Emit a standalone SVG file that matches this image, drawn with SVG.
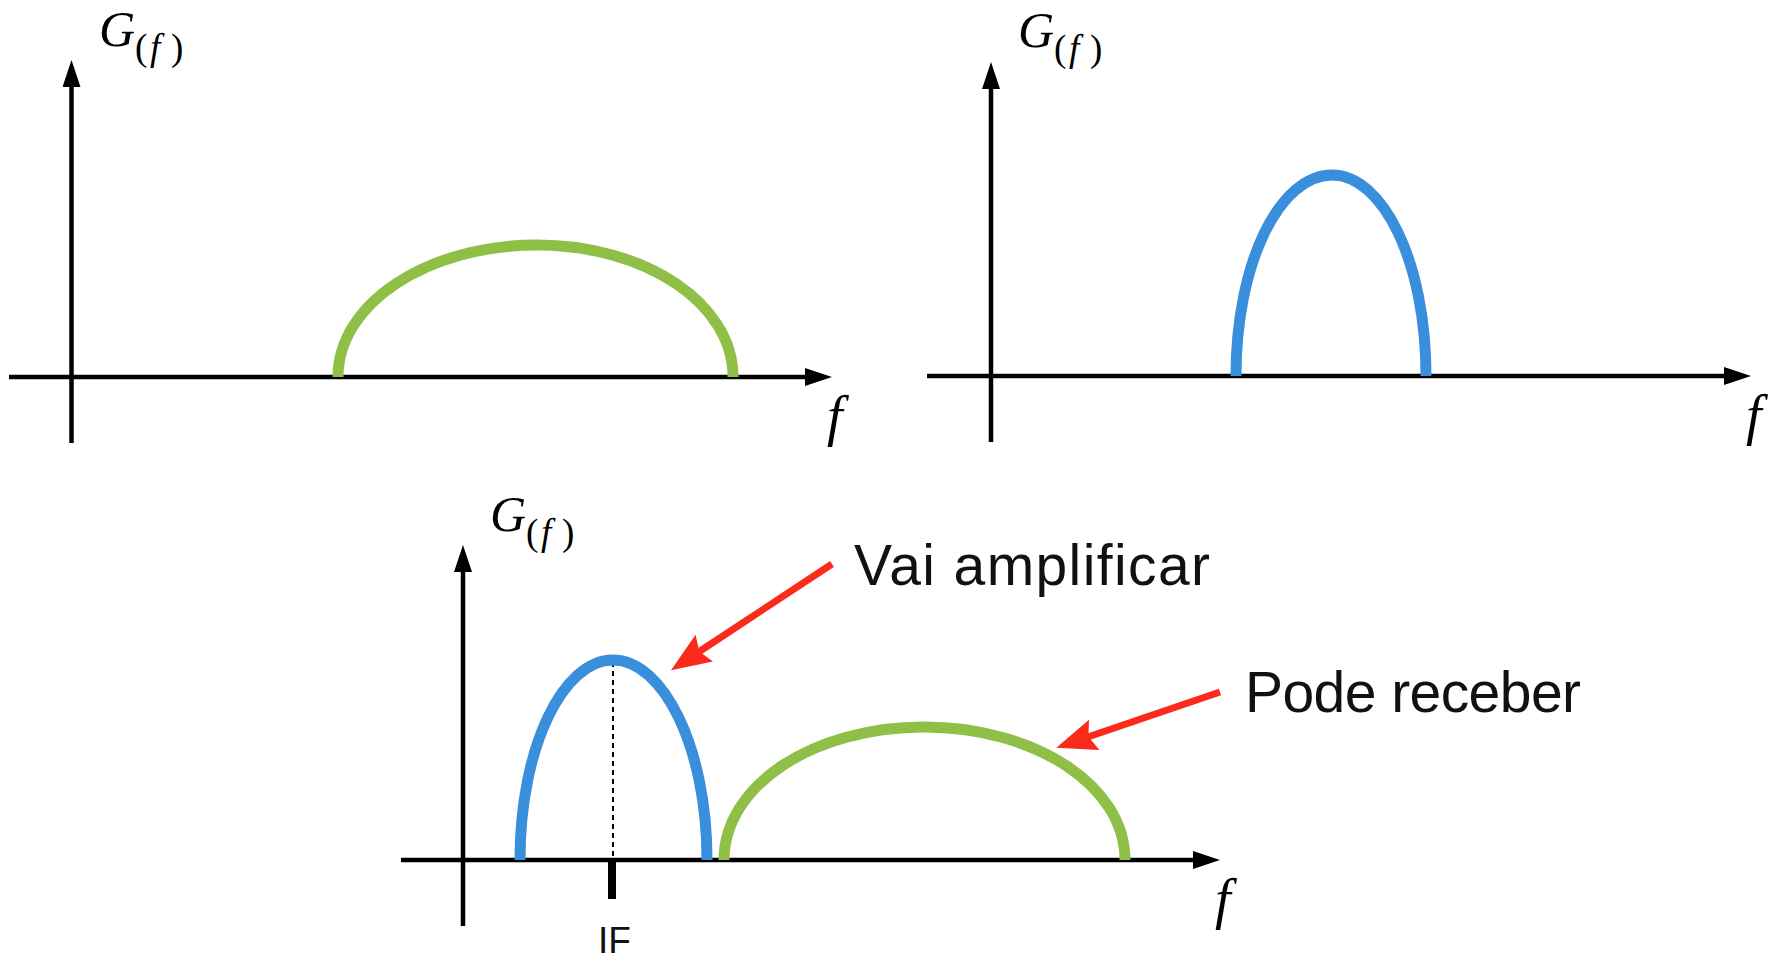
<svg xmlns="http://www.w3.org/2000/svg" width="1777" height="958" viewBox="0 0 1777 958">
  <style>
    .axis { stroke: #000; stroke-width: 4.5; fill: none; }
    .green { stroke: #8fbf47; stroke-width: 11; fill: none; }
    .blue { stroke: #3a8fdd; stroke-width: 11; fill: none; }
    .callout { stroke: #fa2b1b; stroke-width: 7; fill: none; }
    .math { font-family: "Liberation Serif", "Times New Roman", serif; fill: #000; }
    .it { font-style: italic; }
    .g { font-size: 50px; font-style: italic; }
    .sub { font-size: 37px; }
    .flab { font-family: "Liberation Serif", "Times New Roman", serif; font-style: italic; font-size: 56px; fill: #000; }
    .note { font-family: "Liberation Sans", Arial, sans-serif; font-size: 57px; fill: #111; }
    .tick { font-family: "Liberation Sans", Arial, sans-serif; font-size: 37px; fill: #111; }
  </style>
  <defs>
    <marker id="ah" markerUnits="userSpaceOnUse" markerWidth="28" markerHeight="18" refX="7" refY="9" orient="auto">
      <path d="M0,0 L27,9 L0,18 z" fill="#000"/>
    </marker>
    <marker id="rh" markerUnits="userSpaceOnUse" markerWidth="42" markerHeight="34" refX="16" refY="16" orient="auto">
      <path d="M0,0 L40,16 L0,32 L6,16 z" fill="#fa2b1b"/>
    </marker>
  </defs>
  <rect width="1777" height="958" fill="#fff"/>

  <g id="panel1">
    <line class="axis" x1="9" y1="377" x2="812" y2="377" marker-end="url(#ah)"/>
    <line class="axis" x1="71.5" y1="443" x2="71.5" y2="80" marker-end="url(#ah)"/>
    <path class="green" d="M338,377 C338,303 428,245 537,245 C645,245 733,303 733,377"/>
    <text class="math" x="99" y="46"><tspan class="g">G</tspan><tspan class="sub" x="135" y="60">(</tspan><tspan class="sub it" x="150" y="60">f</tspan><tspan class="sub" x="171" y="60">)</tspan></text>
    <text class="flab" x="827" y="435">f</text>
  </g>

  <g id="panel2">
    <line class="axis" x1="927" y1="376" x2="1731" y2="376" marker-end="url(#ah)"/>
    <line class="axis" x1="991" y1="442" x2="991" y2="82" marker-end="url(#ah)"/>
    <path class="blue" d="M1236,376 C1236,262 1280,175 1332,175 C1383,175 1426,262 1426,376"/>
    <text class="math" x="1018" y="47"><tspan class="g">G</tspan><tspan class="sub" x="1054" y="61">(</tspan><tspan class="sub it" x="1069" y="61">f</tspan><tspan class="sub" x="1090" y="61">)</tspan></text>
    <text class="flab" x="1746" y="434">f</text>
  </g>

  <g id="panel3">
    <line class="axis" x1="401" y1="860" x2="1200" y2="860" marker-end="url(#ah)"/>
    <line class="axis" x1="463" y1="926" x2="463" y2="565" marker-end="url(#ah)"/>
    <line x1="613" y1="662" x2="613" y2="858" stroke="#000" stroke-width="2" stroke-dasharray="5 4"/>
    <line x1="612" y1="858" x2="612" y2="899" stroke="#000" stroke-width="8"/>
    <path class="blue" d="M520,860 C520,747 563,660 613,660 C663,660 707,747 707,860"/>
    <path class="green" d="M724,860 C724,785 814,727 924,727 C1034,727 1125,785 1125,860"/>
    <text class="math" x="490" y="531"><tspan class="g">G</tspan><tspan class="sub" x="526" y="545">(</tspan><tspan class="sub it" x="541" y="545">f</tspan><tspan class="sub" x="562" y="545">)</tspan></text>
    <text class="flab" x="1215" y="918">f</text>
    <text class="tick" x="598" y="953">IF</text>
  </g>

  <g id="label-vai">
    <text class="note" x="854" y="585" textLength="356" lengthAdjust="spacing">Vai amplificar</text>
  </g>
  <g id="label-pode">
    <text class="note" x="1245" y="712" textLength="336" lengthAdjust="spacing">Pode receber</text>
  </g>

  <g id="connectors">
    <line class="callout" x1="832" y1="564" x2="691" y2="657" marker-end="url(#rh)"/>
    <line class="callout" x1="1220" y1="692" x2="1079" y2="740" marker-end="url(#rh)"/>
  </g>
</svg>
